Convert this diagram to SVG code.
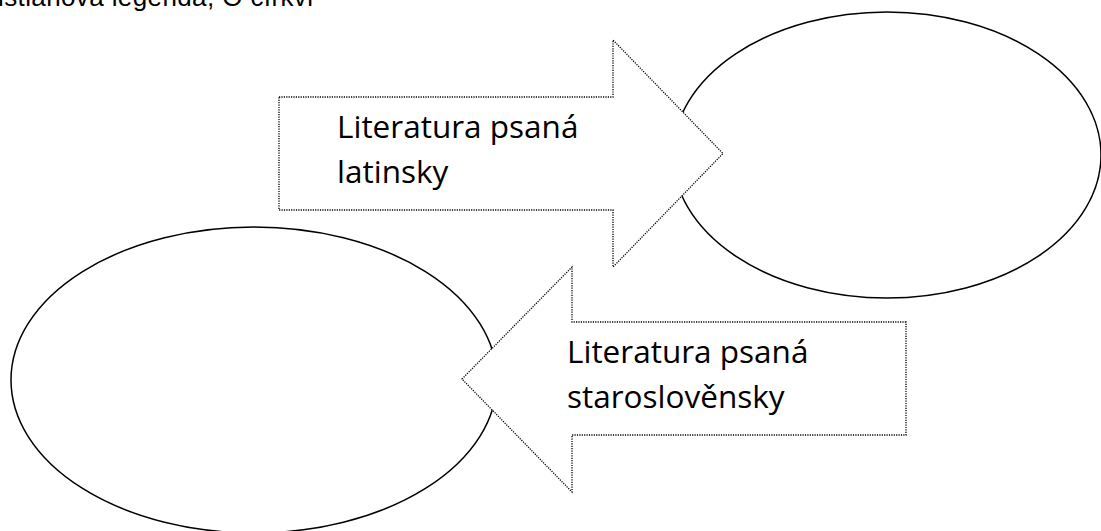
<svg xmlns="http://www.w3.org/2000/svg" width="1101" height="531" viewBox="0 0 1101 531">
  <style>
    .ell { fill: #ffffff; stroke: #000000; stroke-width: 1.5; }
    .arrow { fill: #ffffff; stroke: #000000; stroke-width: 1.3; stroke-dasharray: 1.2 1.2; }
    .label { font-family: "Open Sans", "Noto Sans", sans-serif; font-size: 31.5px; fill: #000000; }
    .header { font-family: "Liberation Sans", Arial, sans-serif; font-size: 26px; fill: #000000; }
  </style>
  <rect x="0" y="0" width="1101" height="531" fill="#ffffff"/>
  <text class="header" x="-2" y="5.5" textLength="315" lengthAdjust="spacing">istiánova legenda, O církvi</text>
  <g id="ellipse-right">
    <ellipse class="ell" cx="887" cy="155" rx="214" ry="143"/>
  </g>
  <g id="ellipse-left">
    <ellipse class="ell" cx="254" cy="380" rx="243" ry="153"/>
  </g>
  <g id="connectors">
    <g id="arrow-latin">
      <path class="arrow" d="M279,97 L613,97 L613,40 L723,153.5 L613,267 L613,210 L279,210 Z"/>
      <text class="label" x="337" y="138">Literatura psaná</text>
      <text class="label" x="337" y="183">latinsky</text>
    </g>
    <g id="arrow-staroslov">
      <path class="arrow" d="M906,322 L572,322 L572,267 L462,379 L572,492 L572,435 L906,435 Z"/>
      <text class="label" x="567" y="363">Literatura psaná</text>
      <text class="label" x="567" y="408">staroslověnsky</text>
    </g>
  </g>
</svg>
